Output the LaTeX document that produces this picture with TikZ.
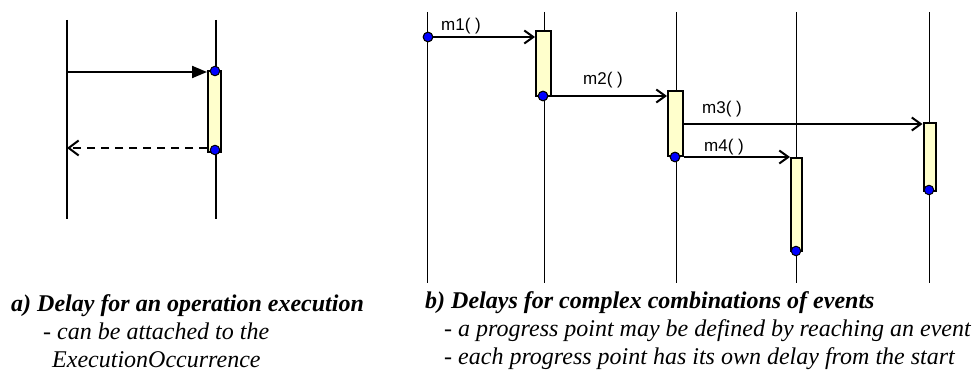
\documentclass[tikz,border=0pt]{standalone}
\usepackage{fontspec}
\setmainfont{Liberation Serif}
\newfontfamily\arialf{Liberation Sans}
\usetikzlibrary{arrows.meta}
\definecolor{actfill}{RGB}{255,255,204}
\definecolor{dotblue}{RGB}{0,0,255}
\begin{document}
\begin{tikzpicture}[x=1pt,y=-1pt,
  lifeline/.style={line width=1pt},
  lifelineA/.style={line width=1.6pt},
  actbox/.style={draw, line width=2pt, fill=actfill, inner sep=0pt},
  dot/.style={circle, draw, line width=1pt, fill=dotblue, minimum size=9.5pt, inner sep=0pt},
  msg/.style={line width=2pt, -{Straight Barb[length=9pt,width=13pt]}},
  callmsg/.style={line width=2pt, -{Triangle[length=15pt,width=12pt]}},
  retmsg/.style={line width=2pt, dash pattern=on 8pt off 6pt, -{Straight Barb[length=10pt,width=15pt]}},
  mlabel/.style={font=\arialf\fontsize{17}{19}\selectfont, inner sep=0pt, anchor=base west},
  captxt/.style={font=\fontsize{24}{22}\selectfont\itshape, inner sep=0pt, anchor=base west}
]
\path[use as bounding box, fill=white] (0,0) rectangle (976,371);

% ---------- panel a ----------
\coordinate (La1t) at (67,20);  \coordinate (La1b) at (67,219);
\coordinate (La2t) at (216,20); \coordinate (La2b) at (216,219);
\draw[lifelineA] (La1t) -- (La1b);
\draw[lifelineA] (La2t) -- (La2b);
\node[actbox, minimum width=13pt, minimum height=81pt] (ba) at (214.5,111.5) {};
\coordinate (ya1) at (0,72);
\coordinate (ya2) at (0,148);
\draw[callmsg] (La1t |- ya1) -- (ba.west |- ya1);
\draw[retmsg] (ba.west |- ya2) -- (La1t |- ya2);
\node[dot] (da1) at (215,71) {};
\node[dot] (da2) at (215,150) {};

% ---------- panel b ----------
\foreach \i/\x in {1/427,2/544,3/676,4/796,5/929}{
  \coordinate (L\i t) at (\x,12);
  \coordinate (L\i b) at (\x,283);
  \draw[lifeline] (L\i t) -- (L\i b);
}
\node[actbox, minimum width=15pt, minimum height=65pt] (b1) at (543.5,63.5) {};
\node[actbox, minimum width=15pt, minimum height=65pt] (b2) at (675.5,123.5) {};
\node[actbox, minimum width=12pt, minimum height=68pt] (b3) at (929.5,157) {};
\node[actbox, minimum width=11pt, minimum height=93pt] (b4) at (796.5,204.5) {};

\node[dot] (d0) at (428,37) {};
\node[dot] (d1) at (543,96) {};
\node[dot] (d2) at (675,157) {};
\coordinate (y3) at (0,124);

\draw[msg] (d0) -- (d0 -| b1.west);
\draw[msg] (d1 -| b1.east) -- (d1 -| b2.west);
\draw[msg] (b2.east |- y3) -- (b3.west |- y3);
\draw[msg] (d2 -| b2.east) -- (d2 -| b4.west);

\node[dot] at (d0) {};
\node[dot] at (d1) {};
\node[dot] at (d2) {};
\node[dot] (d3) at (929,190) {};
\node[dot] (d4) at (796,251) {};

\node[mlabel] (t1) at (441,31) {m1( )};
\node[mlabel] (t2) at (583,85) {m2( )};
\node[mlabel] (t3) at (702,114) {m3( )};
\node[mlabel] (t4) at (704,152) {m4( )};

% ---------- captions ----------
\node[captxt] (ca1) at (11,311) {\bfseries a) Delay for an operation execution};
\node[captxt] (ca2) at (43,339) {- can be attached to the};
\node[captxt] (ca3) at (52,367) {ExecutionOccurrence};
\node[captxt] (cb1) at (425,308) {\bfseries b) Delays for complex combinations of events};
\node[captxt] (cb2) at (444,336) {- a progress point may be defined by reaching an event};
\node[captxt] (cb3) at (444,364) {- each progress point has its own delay from the start};
\end{tikzpicture}
\end{document}
